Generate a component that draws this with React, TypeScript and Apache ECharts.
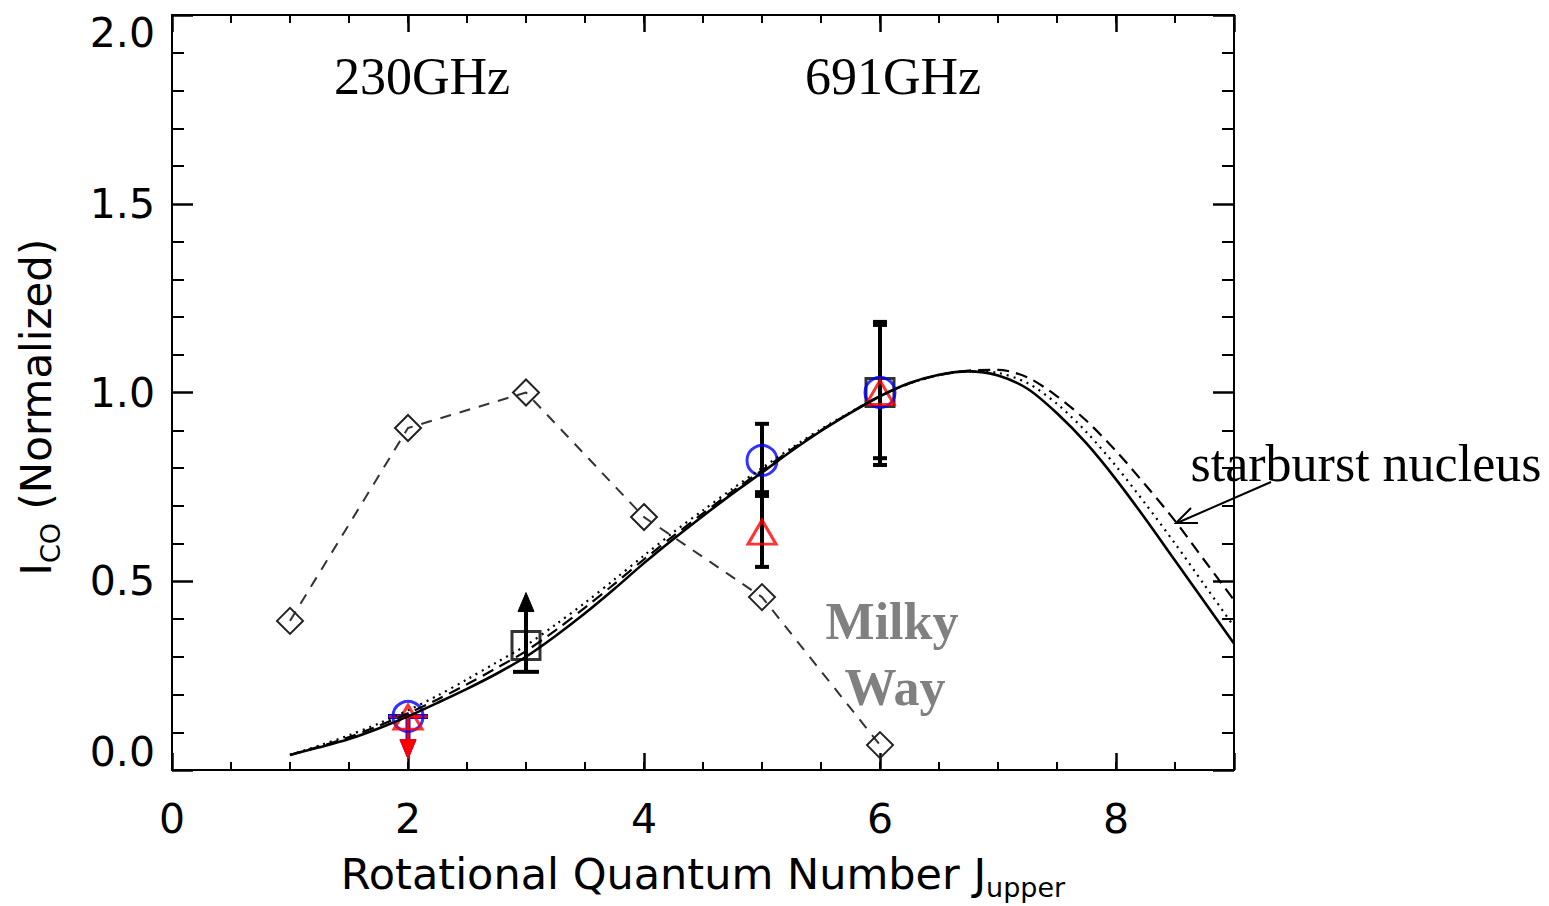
import React, { useEffect, useRef } from 'react';
import * as echarts from 'echarts';

const SANS = 'DejaVu Sans';
const SERIF = 'Liberation Serif';

// Model curves sampled at J_upper
const J_MODEL = [1, 1.25, 1.5, 1.75, 2, 2.25, 2.5, 2.75, 3, 3.25, 3.5, 3.75, 4, 4.25, 4.5, 4.75, 5, 5.25, 5.5, 5.75, 6, 6.25, 6.5, 6.75, 7, 7.25, 7.5, 7.75, 8, 8.25, 8.5, 8.75, 9];
const MODEL_SOLID = [0.04, 0.06, 0.082, 0.11, 0.142, 0.178, 0.215, 0.255, 0.3, 0.355, 0.415, 0.48, 0.548, 0.612, 0.673, 0.732, 0.788, 0.845, 0.898, 0.946, 0.99, 1.025, 1.047, 1.056, 1.045, 1.01, 0.945, 0.865, 0.77, 0.665, 0.555, 0.445, 0.335];
const MODEL_DOTTED = [0.04, 0.065, 0.092, 0.123, 0.158, 0.197, 0.24, 0.285, 0.33, 0.385, 0.443, 0.505, 0.568, 0.63, 0.688, 0.745, 0.8, 0.853, 0.903, 0.948, 0.99, 1.024, 1.046, 1.057, 1.052, 1.025, 0.97, 0.895, 0.805, 0.705, 0.6, 0.49, 0.38];
const MODEL_DASHED = [0.04, 0.062, 0.087, 0.117, 0.15, 0.187, 0.227, 0.27, 0.315, 0.37, 0.43, 0.493, 0.558, 0.62, 0.68, 0.738, 0.794, 0.849, 0.9, 0.947, 0.99, 1.024, 1.046, 1.058, 1.06, 1.04, 0.99, 0.925, 0.845, 0.755, 0.66, 0.555, 0.45];

// Milky Way
const MW_J = [1, 2, 3, 4, 5, 6];
const MW_VALUES = [0.395, 0.906, 1.0, 0.67, 0.458, 0.066];

// Observations
const CIRCLE_J = [2, 5, 6];
const CIRCLE_VALUES = [0.142, 0.82, 1.0];
const TRIANGLE_J = [2, 5, 6];
const TRIANGLE_VALUES = [0.14, 0.63, 1.0];
const SQUARE_J = [3, 6];
const SQUARE_VALUES = [0.33, 1.0];

// Error bars
const ERR_J = [5, 5, 6, 6];
const ERR_LOW = [0.726, 0.538, 0.808, 0.826];
const ERR_HIGH = [0.917, 0.736, 1.187, 1.179];

// Limits (arrows)
const LIMIT_J = [3, 2, 2];
const LIMIT_FROM = [0.26, 0.142, 0.142];
const LIMIT_TO = [0.47, 0.03, 0.03];

// styles for limits
const LIMIT_COLORS = ['#000000', '#0000ff', '#ff0000'];
const LIMIT_WIDTHS = [4, 5, 3];
const LIMIT_CAP_HALF = [13, 20, 19];

const X_TICKS_MAJOR = 2;
const X_TICKS_MINOR = 0.5;

function renderErr(params: any, api: any) {
  const x = api.value(0);
  const lo = api.value(1);
  const hi = api.value(2);
  const a = api.coord([x, lo]);
  const b = api.coord([x, hi]);
  const hw = 7;
  const st = { stroke: '#000', lineWidth: 4, fill: null };
  return {
    type: 'group',
    children: [
      { type: 'line', shape: { x1: a[0], y1: a[1], x2: b[0], y2: b[1] }, style: st },
      { type: 'line', shape: { x1: a[0] - hw, y1: a[1], x2: a[0] + hw, y2: a[1] }, style: st },
      { type: 'line', shape: { x1: b[0] - hw, y1: b[1], x2: b[0] + hw, y2: b[1] }, style: st },
    ],
  };
}

function renderLimit(params: any, api: any) {
  const i = params.dataIndex;
  const x = api.value(0);
  const f = api.value(1);
  const t = api.value(2);
  const color = LIMIT_COLORS[i];
  const lw = LIMIT_WIDTHS[i];
  const a = api.coord([x, f]);
  const b = api.coord([x, t]);
  const dir = b[1] > a[1] ? 1 : -1;
  const headLen = 19;
  const headHw = 8;
  const base = b[1] - dir * headLen;
  const capHw = LIMIT_CAP_HALF[i];
  const st = { stroke: color, lineWidth: lw, fill: null };
  return {
    type: 'group',
    children: [
      { type: 'line', shape: { x1: a[0], y1: a[1], x2: b[0], y2: base }, style: st },
      { type: 'line', shape: { x1: a[0] - capHw, y1: a[1], x2: a[0] + capHw, y2: a[1] }, style: st },
      {
        type: 'polygon',
        shape: { points: [[b[0], b[1]], [b[0] - headHw, base], [b[0] + headHw, base]] },
        style: { fill: color, stroke: color, lineWidth: 1 },
      },
    ],
  };
}

const axisLineStyle = { show: true, onZero: false, lineStyle: { color: '#000', width: 2 } };

function xAxisDef(position: string, interval: number, len: number, showLabel: boolean, showLine: boolean) {
  return {
    type: 'value',
    min: 0,
    max: 9,
    interval,
    position,
    axisLine: { ...axisLineStyle, show: showLine },
    splitLine: { show: false },
    axisTick: { show: true, inside: true, length: len, lineStyle: { color: '#000', width: len > 10 ? 2.5 : 2 } },
    axisLabel: showLabel
      ? {
          show: true,
          margin: 28,
          fontSize: 41,
          fontFamily: SANS,
          color: '#000',
          showMinLabel: true,
          showMaxLabel: true,
          formatter: (v: number) => (v % 2 === 0 ? String(v) : ''),
        }
      : { show: false },
  };
}

const labelRich = {
  n: { fontSize: 41, fontFamily: SANS, color: '#000' },
  b: { fontSize: 41, fontFamily: SANS, color: '#000', padding: [0, 0, 36, 0] },
  t: { fontSize: 41, fontFamily: SANS, color: '#000', padding: [36, 0, 0, 0] },
};

function yAxisDef(position: string, showLabel: boolean, name?: string) {
  return {
    type: 'value',
    min: 0,
    max: 2,
    interval: 0.5,
    position,
    axisLine: axisLineStyle,
    splitLine: { show: false },
    axisTick: { show: true, inside: true, length: 21, lineStyle: { color: '#000', width: 2.5 } },
    minorTick: { show: true, splitNumber: 5, length: 12, lineStyle: { color: '#000', width: 2 } },
    minorSplitLine: { show: false },
    axisLabel: showLabel
      ? {
          show: true,
          margin: 17,
          fontSize: 41,
          fontFamily: SANS,
          color: '#000',
          showMinLabel: true,
          showMaxLabel: true,
          formatter: (v: number) =>
            v === 0 ? '{b|0.0}' : v === 2 ? '{t|2.0}' : '{n|' + v.toFixed(1) + '}',
          rich: labelRich,
        }
      : { show: false },
    ...(name
      ? {
          name,
          nameLocation: 'middle',
          nameRotate: 90,
          nameGap: 108,
          nameTextStyle: {
            color: '#000',
            rich: {
              main: { fontSize: 42, fontFamily: SANS, color: '#000' },
              sub: { fontSize: 27, fontFamily: SANS, color: '#000', padding: [28, 0, 0, 0] },
              end: { fontSize: 42, fontFamily: SANS, color: '#000', padding: [0, 29, 0, 0] },
            },
          },
        }
      : {}),
  };
}

export default function App() {
  const ref = useRef<HTMLDivElement>(null);
  useEffect(() => {
    const chart = echarts.init(ref.current!, null, { renderer: 'svg' });
    const xMain: any = xAxisDef('bottom', X_TICKS_MAJOR, 17, true, true);
    xMain.name = '{main|Rotational Quantum Number J}{sub|upper}';
    xMain.nameLocation = 'middle';
    xMain.nameGap = 76;
    xMain.nameTextStyle = {
      color: '#000',
      rich: {
        main: { fontSize: 43, fontFamily: SANS, color: '#000' },
        sub: { fontSize: 27, fontFamily: SANS, color: '#000', padding: [28, 0, 0, 0] },
      },
    };
    const option: any = {
      animation: false,
      backgroundColor: '#fff',
      grid: { left: 172, right: 315, top: 15, bottom: 136, containLabel: false },
      xAxis: [
        xMain,
        xAxisDef('bottom', X_TICKS_MINOR, 8, false, false),
        xAxisDef('top', X_TICKS_MAJOR, 17, false, true),
        xAxisDef('top', X_TICKS_MINOR, 8, false, false),
      ],
      yAxis: [
        yAxisDef('left', true, '{main|I}{sub|CO}{end| (Normalized)}'),
        yAxisDef('right', false),
      ],
      series: [
        {
          name: 'model solid',
          type: 'line',
          smooth: 0.3,
          showSymbol: false,
          data: J_MODEL.map((j, i) => [j, MODEL_SOLID[i]]),
          lineStyle: { color: '#000', width: 2.6, type: 'solid' },
        },
        {
          name: 'model dotted',
          type: 'line',
          smooth: 0.3,
          showSymbol: false,
          data: J_MODEL.map((j, i) => [j, MODEL_DOTTED[i]]),
          lineStyle: { color: '#000', width: 2.2, type: [2, 5] },
        },
        {
          name: 'model dashed',
          type: 'line',
          smooth: 0.3,
          showSymbol: false,
          data: J_MODEL.map((j, i) => [j, MODEL_DASHED[i]]),
          lineStyle: { color: '#000', width: 2.2, type: [12, 7] },
        },
        {
          name: 'Milky Way',
          type: 'line',
          data: MW_J.map((j, i) => [j, MW_VALUES[i]]),
          symbol: 'diamond',
          symbolSize: 26,
          showSymbol: true,
          lineStyle: { color: '#333', width: 2, type: [11, 9] },
          itemStyle: { color: 'rgba(255,255,255,0)', borderColor: '#222', borderWidth: 2 },
        },
        {
          name: 'squares',
          type: 'scatter',
          symbol: 'rect',
          symbolSize: 28,
          data: SQUARE_J.map((j, i) => [j, SQUARE_VALUES[i]]),
          itemStyle: { color: 'rgba(255,255,255,0)', borderColor: '#000', borderWidth: 3 },
        },
        {
          name: 'circles',
          type: 'scatter',
          symbol: 'circle',
          symbolSize: 30,
          data: CIRCLE_J.map((j, i) => [j, CIRCLE_VALUES[i]]),
          itemStyle: { color: 'rgba(255,255,255,0)', borderColor: '#0000ff', borderWidth: 3 },
        },
        {
          name: 'triangles',
          type: 'scatter',
          symbol: 'triangle',
          symbolSize: [28, 24],
          data: TRIANGLE_J.map((j, i) => [j, TRIANGLE_VALUES[i]]),
          itemStyle: { color: 'rgba(255,255,255,0)', borderColor: '#ff0000', borderWidth: 3 },
        },
        {
          name: 'errors',
          type: 'custom',
          renderItem: renderErr,
          encode: { x: 0, y: [1, 2] },
          data: ERR_J.map((j, i) => [j, ERR_LOW[i], ERR_HIGH[i]]),
        },
        {
          name: 'limits',
          type: 'custom',
          renderItem: renderLimit,
          encode: { x: 0, y: [1, 2] },
          data: LIMIT_J.map((j, i) => [j, LIMIT_FROM[i], LIMIT_TO[i]]),
        },
      ],
      graphic: [
        {
          type: 'text',
          x: 422,
          y: 76,
          style: { text: '230GHz', font: `52px "${SERIF}"`, fill: '#000', align: 'center', verticalAlign: 'middle' },
        },
        {
          type: 'text',
          x: 893,
          y: 76,
          style: { text: '691GHz', font: `52px "${SERIF}"`, fill: '#000', align: 'center', verticalAlign: 'middle' },
        },
        {
          type: 'text',
          x: 1366,
          y: 463,
          style: { text: 'starburst nucleus', font: `52px "${SERIF}"`, fill: '#000', align: 'center', verticalAlign: 'middle' },
        },
        {
          type: 'text',
          x: 892,
          y: 621,
          style: { text: 'Milky', font: `bold 52px "${SERIF}"`, fill: '#808080', align: 'center', verticalAlign: 'middle' },
        },
        {
          type: 'text',
          x: 895,
          y: 687,
          style: { text: 'Way', font: `bold 52px "${SERIF}"`, fill: '#808080', align: 'center', verticalAlign: 'middle' },
        },
        {
          type: 'line',
          shape: { x1: 1271, y1: 482, x2: 1177, y2: 523 },
          style: { stroke: '#000', lineWidth: 2 },
        },
        {
          type: 'polyline',
          shape: { points: [[1191, 508], [1176, 523], [1198, 523]] },
          style: { stroke: '#000', lineWidth: 2, fill: null },
        },
      ],
    };
    chart.setOption(option);
    return () => chart.dispose();
  }, []);
  return (
    <div
      ref={ref}
      style={{ position: 'absolute', left: 0, top: 0, width: 1549, height: 906, background: '#fff' }}
    />
  );
}
